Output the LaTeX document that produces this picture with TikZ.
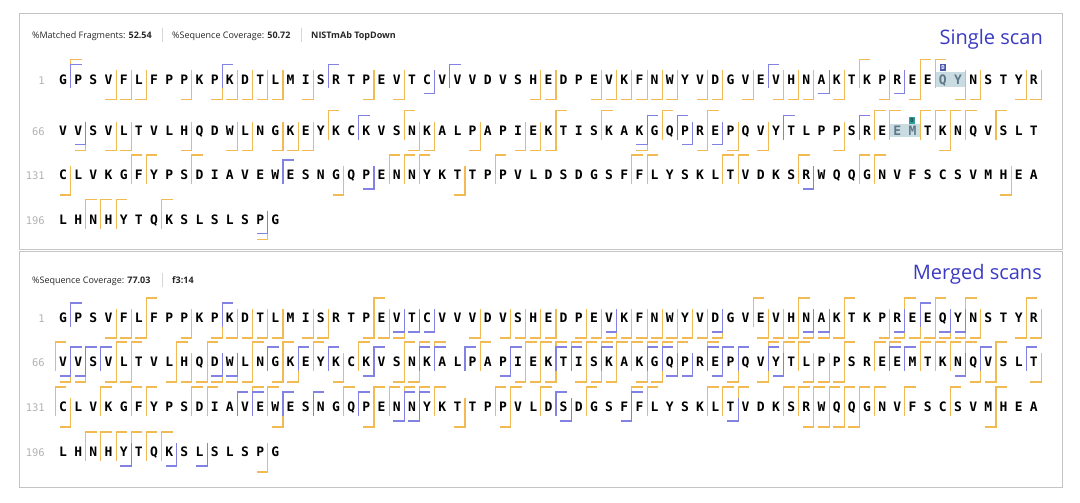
\documentclass[tikz,border=0pt]{standalone}
\usepackage{fontspec}
\setmainfont{Open Sans}
\newfontfamily\seqfont{DejaVu Sans Mono}

\definecolor{ionorange}{RGB}{242,186,82}
\definecolor{ionblue}{RGB}{130,130,228}
\definecolor{scanblue}{RGB}{58,58,196}
\definecolor{numgray}{RGB}{178,178,178}
\definecolor{panelgray}{RGB}{196,196,196}
\definecolor{sepgray}{RGB}{215,215,215}
\definecolor{hilite}{RGB}{200,220,226}
\definecolor{modtext}{RGB}{95,120,135}
\definecolor{badgeD}{RGB}{80,90,170}
\definecolor{badgeO}{RGB}{40,160,160}

\tikzset{
  res/.style={font=\seqfont\bfseries\fontsize{13}{15}\selectfont, inner sep=0pt, anchor=base},
  rownum/.style={font=\seqfont\fontsize{10.5}{12}\selectfont, text=numgray, inner sep=0pt, anchor=base east},
  hdr/.style={font=\fontsize{9}{11}\selectfont, text=black!85, inner sep=0pt, anchor=base west},
  scanlbl/.style={font=\fontsize{20}{24}\selectfont, text=scanblue, inner sep=0pt, anchor=base east},
  ocut/.style={draw=ionorange, line width=1.1pt},
  bcut/.style={draw=ionblue, line width=1.1pt},
  panel/.style={draw=panelgray, line width=1pt},
  sep/.style={draw=sepgray, line width=0.8pt},
  badge/.style={font=\seqfont\bfseries\fontsize{5.5}{6}\selectfont, inner sep=0pt, minimum size=6.5pt},
  % modified residues
  sA58/.style={text=modtext}, sA59/.style={text=modtext},
  sB55/.style={text=modtext}, sB56/.style={text=modtext},
}

\def\pitch{15.17}

% residues of one line: name prefix, y, first number, residue list
\newcommand\seqrow[4]{%
  \node[rownum] (#1n) at (45,{#2+4.7}) {#3};
  \foreach \aa [count=\j from 0] in #4
    \node[res, #1\j/.try] (#1\j) at ({63+\pitch*\j},{#2+4.7}) {\aa};
}
% C-terminal cuts: style, y, hook rise, sites
\newcommand\topcuts[4]{%
  \foreach \s in {#4}
    \draw[#1] ({63+\pitch*(\s-0.5)},{#2+9}) |- ++(11,{-9-#3});
}
% N-terminal cuts: style, y, hook drop, sites
\newcommand\botcuts[4]{%
  \foreach \s in {#4}
    \draw[#1] ({63+\pitch*(\s-0.5)},{#2-9}) |- ++(-11,{9+#3});
}

\def\seqA{G,P,S,V,F,L,F,P,P,K,P,K,D,T,L,M,I,S,R,T,P,E,V,T,C,V,V,V,D,V,S,H,E,D,P,E,V,K,F,N,W,Y,V,D,G,V,E,V,H,N,A,K,T,K,P,R,E,E,Q,Y,N,S,T,Y,R}
\def\seqB{V,V,S,V,L,T,V,L,H,Q,D,W,L,N,G,K,E,Y,K,C,K,V,S,N,K,A,L,P,A,P,I,E,K,T,I,S,K,A,K,G,Q,P,R,E,P,Q,V,Y,T,L,P,P,S,R,E,E,M,T,K,N,Q,V,S,L,T}
\def\seqC{C,L,V,K,G,F,Y,P,S,D,I,A,V,E,W,E,S,N,G,Q,P,E,N,N,Y,K,T,T,P,P,V,L,D,S,D,G,S,F,F,L,Y,S,K,L,T,V,D,K,S,R,W,Q,Q,G,N,V,F,S,C,S,V,M,H,E,A}
\def\seqD{L,H,N,H,Y,T,Q,K,S,L,S,L,S,P,G}

\begin{document}
\begin{tikzpicture}[x=1pt,y=-1pt]
 \useasboundingbox (0,0) rectangle (1080,503);

 \draw[panel] (19,14) rectangle (1062,249);
 \draw[panel] (19,251) rectangle (1062,487);

 %% single scan
 \node[hdr] (mfrag) at (32,38.5) {\%Matched Fragments: \textbf{52.54}};
 \draw[sep] (162,28) -- (162,42);
 \node[hdr] (cov1) at (172,38.5) {\%Sequence Coverage: \textbf{50.72}};
 \draw[sep] (301,28) -- (301,42);
 \node[hdr] (dset) at (311,38.5) {\textbf{NISTmAb TopDown}};
 \node[scanlbl] (single) at (1043,45) {Single scan};

 \fill[hilite] (936,72) rectangle (965,87);
 \fill[hilite] (890,124) rectangle (920,137);
 \node[badge, fill=badgeD, text=white] (modD) at (943,67.5) {D};
 \node[badge, fill=badgeO, text=black!80] (modO) at (912,120.5) {O};

 \seqrow{sA}{79.5}{1}{\seqA}
 \seqrow{sB}{130.5}{66}{\seqB}
 \seqrow{sC}{175}{131}{\seqC}
 \seqrow{sD}{219.5}{196}{\seqD}

 \topcuts{ocut}{79.5}{20}{1,53,57,58}
 \botcuts{ocut}{79.5}{20}{4,5,6,9,11,12,13,14,15,17,21,23,32,33,36,37,38,39,40,41,43,44,46,48,49,50,52,55,57,60,61,64,65}
 \topcuts{bcut}{79.5}{15}{1,11,18,26,47}
 \botcuts{bcut}{79.5}{14}{25,51,56}

 \topcuts{ocut}{130.5}{20}{18,23,33,36,40,43,54,55,57,58,59,60,62}
 \botcuts{ocut}{130.5}{20}{2,4,5,9,12,13,15,16,17,24,25,28,31,32,33,39,43,45,47,52,59}
 \topcuts{bcut}{130.5}{15}{20,39,41,48,53}
 \botcuts{bcut}{130.5}{14}{2,39,42,44}

 \topcuts{ocut}{175}{20}{5,6,9,22,23,24,29,38,39,44,45,49,53,54}
 \botcuts{ocut}{175}{20}{1,19,27,63}
 \topcuts{bcut}{175}{15}{15}
 \botcuts{bcut}{175}{14}{21,50}

 \topcuts{ocut}{219.5}{20}{2,3,4,7}
 \botcuts{ocut}{219.5}{20}{14}
 \botcuts{bcut}{219.5}{14}{14}

 %% merged scans
 \node[hdr] (cov2) at (32,283.5) {\%Sequence Coverage: \textbf{77.03}};
 \draw[sep] (162,273) -- (162,287);
 \node[hdr] (frac) at (172,283.5) {\textbf{f3:14}};
 \node[scanlbl] (merged) at (1042,279) {Merged scans};

 \seqrow{mA}{318}{1}{\seqA}
 \seqrow{mB}{362}{66}{\seqB}
 \seqrow{mC}{407}{131}{\seqC}
 \seqrow{mD}{452}{196}{\seqD}

 \topcuts{ocut}{318}{20}{6,21,46,49,52,56,58,60,64}
 \botcuts{ocut}{318}{20}{4,5,6,9,11,12,13,14,15,17,18,21,22,23,28,30,31,32,33,35,36,37,38,39,40,41,42,43,44,47,48,49,50,51,52,55,56,57,58,59,60,61,64,65}
 \topcuts{bcut}{318}{15}{1,11,57}
 \botcuts{bcut}{318}{14}{23,24,25,37,44,50,51,56,59,60}

 \topcuts{ocut}{362}{20}{0,4,5,8,10,13,15,17,20,23,24,25,28,31,32,33,34,35,36,37,38,39,40,41,43,47,48,49,52,54,55,57,58,59,60,62}
 \botcuts{ocut}{362}{20}{1,2,4,5,8,9,10,11,12,13,15,16,19,23,24,31,32,33,35,36,37,39,40,45,47,50,51,52,61,62,65}
 \topcuts{bcut}{362}{15}{1,2,3,14,16,18,21,24,25,27,30,33,34,36,39,40,43,44,45,47,55,56,61,64}
 \botcuts{bcut}{362}{14}{1,2,11,12,21,30,41,42,44,48,60}

 \topcuts{ocut}{407}{20}{0,3,5,6,9,10,13,14,19,21,22,23,24,25,29,30,32,35,38,39,43,44,45,48,49,50,51,52,53,54,56,59,62}
 \botcuts{ocut}{407}{20}{1,15,21,27,30,50,51,52,53,62}
 \topcuts{bcut}{407}{15}{12,13,15,17,20,23,24,33,38}
 \botcuts{bcut}{407}{14}{23,24,34,38,45}

 \topcuts{ocut}{452}{20}{2,3,4,5,6,7}
 \botcuts{ocut}{452}{20}{14}
 \botcuts{bcut}{452}{14}{5,8,10}
\end{tikzpicture}
\end{document}
